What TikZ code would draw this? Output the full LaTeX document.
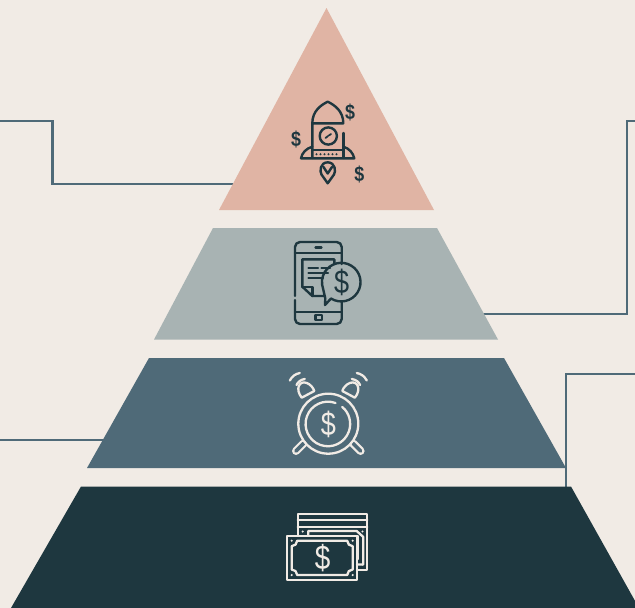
\documentclass[tikz,border=0pt]{standalone}
\usepackage{fontspec}
\setmainfont{Liberation Sans}
\definecolor{bg}{HTML}{F1EBE5}
\definecolor{tiera}{HTML}{E0B4A4}
\definecolor{tierb}{HTML}{A8B3B3}
\definecolor{tierc}{HTML}{4F6A78}
\definecolor{tierd}{HTML}{1E373F}
\tikzset{
  link/.style={draw=tierc,line width=2.6pt,line join=miter},
  icondark/.style={draw=tierd,line width=2.4pt,line cap=round,line join=round},
  iconlight/.style={draw=bg,line width=2.3pt,line cap=round,line join=round},
  sign/.style={inner sep=0pt,xscale=.82,font=\fontsize{#1}{#1}\selectfont},
  boldsign/.style={inner sep=0pt,xscale=.85,font=\fontsize{#1}{#1}\selectfont\bfseries}
}
\begin{document}
\begin{tikzpicture}[x=1pt,y=-1pt]
\useasboundingbox (0,0) rectangle (635,608);
\clip (0,0) rectangle (635,608);
\fill[bg] (0,0) rectangle (635,608);
% connector ends
\coordinate (la1) at (-2,121); \coordinate (la2) at (52.5,121); \coordinate (la3) at (52.5,184); \coordinate (la4) at (236,184);
\coordinate (ra1) at (637,121); \coordinate (ra2) at (627,121); \coordinate (ra3) at (627,314); \coordinate (ra4) at (482,314);
\coordinate (lb1) at (-2,440); \coordinate (lb2) at (106,440);
\coordinate (rb1) at (637,374); \coordinate (rb2) at (566,374); \coordinate (rb3) at (566,488);
\draw[link] (la1) -- (la2) -- (la3) -- (la4);
\draw[link] (ra1) -- (ra2) -- (ra3) -- (ra4);
\draw[link] (lb1) -- (lb2);
\draw[link] (rb1) -- (rb2) -- (rb3);
% tiers
\fill[tiera] (326.5,8) -- (434,210) -- (219,210) -- cycle;
\fill[tierb] (213,228) -- (437,228) -- (498,339.5) -- (154,339.5) -- cycle;
\fill[tierc] (149,358) -- (504,358) -- (566,468) -- (87,468) -- cycle;
\fill[tierd] (81,486.5) -- (571,486.5) -- (639,608) -- (11,608) -- cycle;
% rocket
\begin{scope}[icondark]
\draw (312.3,158) -- (312.3,123.3) .. controls (312.3,111) and (321,105) .. (327.7,101.7) .. controls (334.5,105) and (343.3,111) .. (343.3,123.3) -- (312.3,123.3);
\draw (343.3,133) -- (343.3,158);
\draw (328.3,136) circle (8.6);
\draw[line width=1.8pt] (325.5,138) -- (328,136); \draw[line width=1.8pt] (328.8,135.5) -- (331,134);
\draw (312.3,150) -- (343.3,150);
\draw (312.3,146.7) .. controls (306,148.5) and (302,153) .. (301,158.3) -- (354.3,158.3) .. controls (353,153) and (349.5,148.5) .. (343.3,146.7);
\foreach \x in {316.5,320.5,324.5,328.5,332.5,336.5} \fill[tierd] (\x,154.2) circle (1.1);
\draw (327.7,183.3) -- (321.5,174.5) .. controls (319.5,171.5) and (320,162.5) .. (327.7,162.3) .. controls (335.5,162.5) and (336,171.5) .. (334,174.5) -- cycle;
\draw (323.5,167) -- (327.7,173.5) -- (332,167);
\end{scope}
\node[boldsign=21,text=tierd] (sa) at (350,112.7) {\$};
\node[boldsign=21,text=tierd] (sb) at (296,139.3) {\$};
\node[boldsign=21,text=tierd] (sc) at (359.3,174.3) {\$};
% phone
\begin{scope}[icondark]
\draw[rounded corners=5pt] (341.7,264) -- (341.7,242) -- (295,242) -- (295,296);
\draw[rounded corners=5pt] (295,300) -- (295,324) -- (341.7,324) -- (341.7,301.7);
\draw (295,252.7) -- (341.7,252.7);
\draw (295,311.7) -- (341.7,311.7);
\draw (315.5,247.3) -- (321.5,247.3);
\draw (315.5,314.8) rectangle (321.7,320);
\draw (334.3,264) -- (334.3,259.3) -- (302.3,259.3) -- (302.3,286.7) -- (312.3,296) -- (325,296);
\draw (302.3,286.7) -- (312.3,286.7) -- (312.3,296);
\draw (308.5,267.7) -- (318,267.7); \draw (321.5,267.7) -- (330,267.7);
\draw (308.5,272.7) -- (328,272.7);
\draw (308.5,277.7) -- (323,277.7);
\draw (331,298.5) arc[start angle=122,end angle=-200,radius=19.3] -- (325.3,298.5) -- (325,305) -- cycle;
\end{scope}
\node[sign=33,text=tierd] (sd) at (341.7,282) {\$};
% clock
\begin{scope}[iconlight]
\foreach \xa/\ya/\xb/\yb in {303.5/443.5/296/451,353.1/443.5/360.6/451} {
  \draw[line width=8pt] (\xa,\ya) -- (\xb,\yb);
  \draw[tierc,line width=3.6pt] (\xa,\ya) -- (\xb,\yb);
}
\draw[fill=tierc] (328.3,423.7) circle (30);
\draw (335.5,403) arc[start angle=-70,end angle=-410,radius=22.3];
\foreach \s in {1,-1} {
\begin{scope}[xshift=328.3pt,xscale=\s]
  \draw (-26.6,397.7) .. controls (-33.5,389) and (-29,380) .. (-21.5,383) .. controls (-18.5,384) and (-15,387.5) .. (-14,391) -- cycle;
  \draw (-38.5,380.5) .. controls (-36,376) and (-33,374) .. (-28.5,373);
  \draw (-31.8,385) .. controls (-30.5,382) and (-27.5,379.5) .. (-23.5,379);
\end{scope}}
\end{scope}
\node[sign=33,text=bg] (se) at (328.3,424) {\$};
% money
\begin{scope}[iconlight]
\draw (297.7,535) -- (297.7,514.3) -- (367.3,514.3) -- (367.3,570) -- (357,570);
\draw (297.7,520) -- (367.3,520);
\draw (297.7,526.7) -- (367.3,526.7);
\draw (308.3,535.7) -- (308.3,531) -- (356.7,531) -- (363.3,537) -- (363.3,564.5) -- (357,564.5);
\draw (342,535.7) -- (358.3,535.7) -- (358.3,559) ;
\draw (286.7,535.7) rectangle (356.7,580);
\draw (291.7,546.2) arc[start angle=90,end angle=0,radius=5.5] -- (347.2,540.7) arc[start angle=180,end angle=90,radius=5.5] -- (352.7,569.5) arc[start angle=-90,end angle=-180,radius=5.5] -- (297.2,575) arc[start angle=0,end angle=-90,radius=5.5] -- cycle;
\end{scope}
\foreach \x/\y in {291.7/540.7,352.7/540.7,291.7/575,352.7/575,302.7/531.5,362.5/531.5,362.5/564.5} \fill[bg] (\x,\y) circle (1.2);
\node[sign=34,text=bg] (sf) at (322.7,557.7) {\$};
\end{tikzpicture}
\end{document}
